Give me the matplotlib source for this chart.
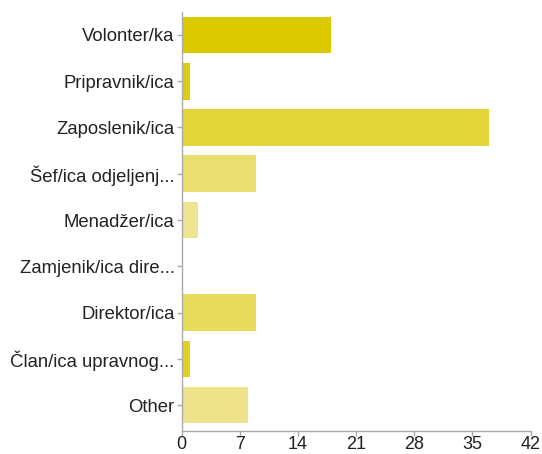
import numpy as np
import matplotlib.pyplot as plt

plt.rcParams['font.family'] = ['Liberation Sans', 'DejaVu Sans']

categories = ["Volonter/ka", "Pripravnik/ica", "Zaposlenik/ica", "Šef/ica odjeljenj...",
              "Menadžer/ica", "Zamjenik/ica dire...", "Direktor/ica",
              "Član/ica upravnog...", "Other"]
counts = [18, 1, 37, 9, 2, 0, 9, 1, 8]
colors = ["#DCCA00", "#DFCC10", "#E3D43A", "#E9DE6E", "#EEE592",
          "#EEE592", "#E6DA5A", "#E2D020", "#EEE38A"]
xticks = [0, 7, 14, 21, 28, 35, 42]

fig = plt.figure(figsize=(5.42, 4.54), dpi=100)
ax = fig.add_axes([0.3352, 0.0515, 0.979 - 0.3352, 0.974 - 0.0515])

y = np.arange(len(categories))
ax.barh(y, counts, height=0.79, color=colors, edgecolor="none")

ax.set_ylim(8.55, -0.5)
ax.set_xlim(0, 42)
ax.set_yticks(y)
ax.set_yticklabels(categories, fontsize=13.3, color="#222222")
ax.set_xticks(xticks)
ax.set_xticklabels([str(t) for t in xticks], fontsize=13, color="#222222")

for s in ["top", "right"]:
    ax.spines[s].set_visible(False)
for s in ["left", "bottom"]:
    ax.spines[s].set_color("#aaaaaa")
    ax.spines[s].set_linewidth(1)
ax.tick_params(axis="both", colors="#aaaaaa", length=3.5, width=1, labelcolor="#222222")
ax.tick_params(axis="y", pad=1.5)
ax.tick_params(axis="x", pad=0.5)

fig.savefig("out.png", dpi=100)
